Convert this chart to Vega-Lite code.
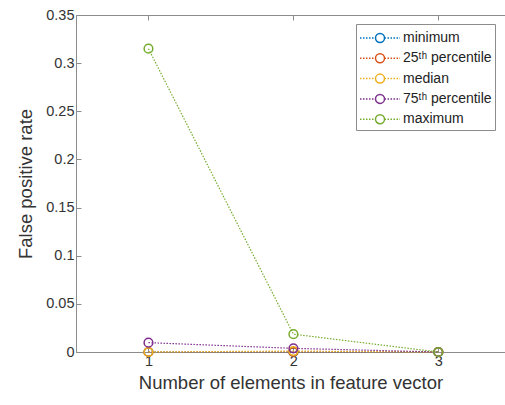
{
  "$schema": "https://vega.github.io/schema/vega-lite/v6.json",
  "autosize": "none",
  "width": 429,
  "height": 337,
  "padding": {"left": 76, "top": 15, "right": 0, "bottom": 53},
  "background": "white",
  "config": {
    "font": "Liberation Sans",
    "view": {"stroke": "#8c8c8c", "strokeWidth": 1},
    "axis": {"grid": false, "domainColor": "#8c8c8c", "tickColor": "#8c8c8c", "labelColor": "#333333", "titleColor": "#333333", "labelFontSize": 14.5, "titleFontSize": 18.5, "titleFontWeight": "normal", "labelFont": "Liberation Sans", "titleFont": "Liberation Sans"}
  },
  "data": {
    "values": [
      {"series": "minimum", "x": 1, "y": 0},
      {"series": "minimum", "x": 2, "y": 0},
      {"series": "minimum", "x": 3, "y": 0},
      {"series": "25th", "x": 1, "y": 0},
      {"series": "25th", "x": 2, "y": 0},
      {"series": "25th", "x": 3, "y": 0},
      {"series": "median", "x": 1, "y": 0},
      {"series": "median", "x": 2, "y": 0.001},
      {"series": "median", "x": 3, "y": 0},
      {"series": "75th", "x": 1, "y": 0.0097},
      {"series": "75th", "x": 2, "y": 0.0038},
      {"series": "75th", "x": 3, "y": 0},
      {"series": "maximum", "x": 1, "y": 0.315},
      {"series": "maximum", "x": 2, "y": 0.0185},
      {"series": "maximum", "x": 3, "y": 0}
    ]
  },
  "resolve": {"axis": {"x": "independent"}},
  "layer": [
    {
      "encoding": {
        "x": {"field": "x", "type": "quantitative", "scale": {"domain": [0.5, 3.46], "nice": false, "zero": false},
          "axis": {"values": [1, 2, 3], "tickSize": -5, "labelPadding": 7, "title": "Number of elements in feature vector", "titlePadding": 6}},
        "y": {"field": "y", "type": "quantitative", "scale": {"domain": [0, 0.35], "nice": false},
          "axis": {"values": [0, 0.05, 0.1, 0.15, 0.2, 0.25, 0.3, 0.35], "format": ".2~f", "tickSize": -5, "labelPadding": 7, "title": "False positive rate", "titlePadding": 10}},
        "color": {"field": "series", "type": "nominal",
          "scale": {"domain": ["minimum", "25th", "median", "75th", "maximum"], "range": ["#0072BD", "#D95319", "#EDB120", "#7E2F8E", "#77AC30"]},
          "legend": {
            "orient": "none", "legendX": 280, "legendY": 9,
            "title": null,
            "labelExpr": "datum.label == '25th' ? '25ᵗʰ percentile' : datum.label == '75th' ? '75ᵗʰ percentile' : datum.label",
            "symbolType": "M-1,0L-0.85,0M-0.7,0L-0.55,0M-0.4,0L-0.25,0M-0.1,0L0.05,0M0.2,0L0.35,0M0.5,0L0.55,0M1.45,0L1.6,0M1.75,0L1.9,0M2.05,0L2.2,0M2.35,0L2.5,0M2.65,0L2.8,0M2.95,0L3,0M1.45,0A0.45,0.45,0,1,1,0.55,0A0.45,0.45,0,1,1,1.45,0",
            "symbolSize": 400,
            "symbolStrokeWidth": 1.5,
            "symbolFillColor": "transparent",
            "labelFontSize": 14,
            "labelColor": "#222222",
            "labelFont": "Liberation Sans",
            "labelOffset": 22,
            "rowPadding": 1.3,
            "strokeColor": "#8c8c8c",
            "fillColor": "white",
            "padding": 3
          }
        }
      },
      "layer": [
        {"mark": {"type": "line", "strokeDash": [1.5, 1.5], "strokeWidth": 1.2}},
        {"mark": {"type": "point", "shape": "circle", "filled": false, "size": 75, "strokeWidth": 1.5, "opacity": 1}}
      ]
    },
    {
      "mark": {"type": "point", "opacity": 0},
      "encoding": {
        "x": {"field": "x", "type": "quantitative",
          "axis": {"orient": "top", "values": [1, 2, 3], "tickSize": -5, "labels": false, "domain": false, "title": null}},
        "y": {"field": "y", "type": "quantitative"}
      }
    }
  ]
}
